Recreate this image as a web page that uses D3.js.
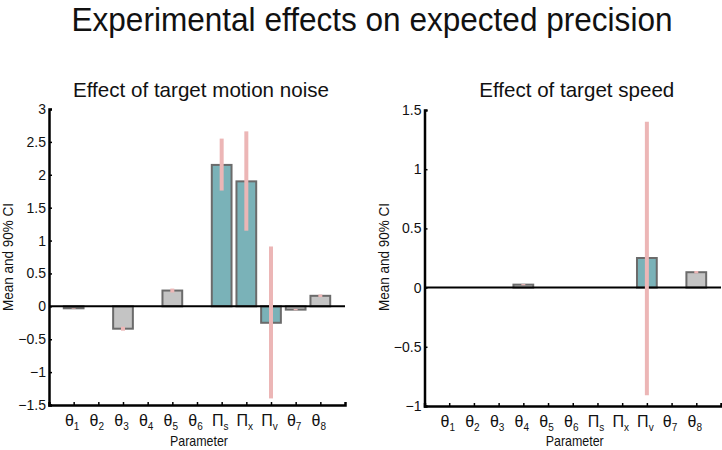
<!DOCTYPE html>
<html><head><meta charset="utf-8">
<script src="https://cdn.jsdelivr.net/npm/d3@7"></script>
<style>body{margin:0;background:#fff;}svg{display:block;font-family:"Liberation Sans",Arial,sans-serif;}</style>
</head><body>
<svg id="c" width="722" height="450"></svg>
<script>
const categories = ["θ1","θ2","θ3","θ4","θ5","θ6","Πs","Πx","Πv","θ7","θ8"];
const noiseMean = [-0.03, 0, -0.34, 0, 0.24, 0, 2.15, 1.90, -0.25, -0.05, 0.16];
const noiseLo   = [-0.035, 0, -0.37, 0, 0.21, 0, 1.76, 1.15, -1.40, -0.06, 0.14];
const noiseHi   = [-0.025, 0, -0.31, 0, 0.27, 0, 2.55, 2.66, 0.91, -0.04, 0.18];
const speedMean = [0, 0, 0, 0.025, 0, 0, 0, 0, 0.25, 0, 0.13];
const speedLo   = [0, 0, 0, 0.02, 0, 0, 0, 0, -0.91, 0, 0.12];
const speedHi   = [0, 0, 0, 0.03, 0, 0, 0, 0, 1.40, 0, 0.14];
const noiseTicks = [3, 2.5, 2, 1.5, 1, 0.5, 0, -0.5, -1, -1.5];
const speedTicks = [1.5, 1, 0.5, 0, -0.5, -1];

const FONT = "'Liberation Sans',Arial,sans-serif";
const svg = d3.select("#c");
svg.append("text").attr("x", 372).attr("y", 31).attr("text-anchor", "middle")
  .attr("font-size", 33).attr("fill", "#111").attr("textLength", 601)
  .attr("lengthAdjust", "spacingAndGlyphs").text("Experimental effects on expected precision");

function panel(opts) {
  const {x0, x1, y0, y1, dom, ticks, mean, lo, hi, sub, subLen, ylabX} = opts;
  const g = svg.append("g");
  const x = d3.scaleLinear().domain([0, 12]).range([x0, x1]);
  const y = d3.scaleLinear().domain(dom).range([y1, y0]);
  const step = x(1) - x(0);
  const bw = step * 0.8;
  const data = categories.map((c, i) => ({c, i, m: mean[i], lo: lo[i], hi: hi[i]}));

  g.append("text").attr("x", (x0 + x1) / 2 + 4).attr("y", 97).attr("text-anchor", "middle")
    .attr("font-size", 21).attr("fill", "#111").attr("textLength", subLen)
    .attr("lengthAdjust", "spacingAndGlyphs").text(sub);

  g.selectAll("rect.bar").data(data.filter(d => d.m !== 0)).join("rect")
    .attr("x", d => x(d.i + 1) - bw / 2)
    .attr("y", d => y(Math.max(0, d.m)))
    .attr("width", bw)
    .attr("height", d => Math.abs(y(d.m) - y(0)))
    .attr("fill", d => d.c.startsWith("Π") ? "#7ab2b8" : "#c4c4c4")
    .attr("stroke", "#6b6b6b").attr("stroke-width", 2);

  g.append("line").attr("x1", x0).attr("x2", x1).attr("y1", y(0)).attr("y2", y(0))
    .attr("stroke", "#000").attr("stroke-width", 2);

  g.selectAll("line.ci").data(data.filter(d => d.hi !== d.lo)).join("line")
    .attr("x1", d => x(d.i + 1)).attr("x2", d => x(d.i + 1))
    .attr("y1", d => y(d.lo)).attr("y2", d => y(d.hi))
    .attr("stroke", "#ecb6b6").attr("stroke-width", 4);

  const ya = g.append("g").attr("transform", `translate(${x0},0)`)
    .call(d3.axisLeft(y).tickValues(ticks).tickSize(-3).tickPadding(3).tickFormat(d3.format("")));
  ya.attr("font-family", FONT).attr("font-size", 14);
  ya.select(".domain").attr("stroke", "#000").attr("stroke-width", 2.5);
  ya.selectAll(".tick line").attr("stroke", "#000").attr("stroke-width", 1.5);
  ya.selectAll(".tick text").attr("fill", "#111");

  const xa = g.append("g").attr("transform", `translate(0,${y1})`)
    .call(d3.axisBottom(x).tickValues(d3.range(1, 12)).tickSize(-3).tickFormat(""));
  xa.attr("font-family", FONT).attr("font-size", 16);
  xa.select(".domain").attr("stroke", "#000").attr("stroke-width", 2.5);
  xa.selectAll(".tick line").attr("stroke", "#000").attr("stroke-width", 1.5);
  xa.selectAll(".tick text").each(function(d) {
    const c = categories[d - 1];
    const t = d3.select(this).attr("fill", "#111").attr("y", 21).attr("dy", 0).attr("dx", -2);
    t.append("tspan").text(c[0]);
    t.append("tspan").attr("font-size", 10).attr("dy", 4).text(c.slice(1));
  });

  g.append("text").attr("x", (x0 + x1) / 2 + 2).attr("y", 446).attr("text-anchor", "middle")
    .attr("font-size", 15).attr("fill", "#111").attr("textLength", 58)
    .attr("lengthAdjust", "spacingAndGlyphs").text("Parameter");

  g.append("text").attr("transform", `translate(${ylabX},257) rotate(-90)`).attr("text-anchor", "middle")
    .attr("font-size", 15).attr("fill", "#111").attr("textLength", 108)
    .attr("lengthAdjust", "spacingAndGlyphs").text("Mean and 90% CI");
}

panel({x0: 49, x1: 345, y0: 109, y1: 405, dom: [-1.5, 3], ticks: noiseTicks,
  mean: noiseMean, lo: noiseLo, hi: noiseHi, sub: "Effect of target motion noise", subLen: 256, ylabX: 13});
panel({x0: 424.5, x1: 721, y0: 110, y1: 406, dom: [-1, 1.5], ticks: speedTicks,
  mean: speedMean, lo: speedLo, hi: speedHi, sub: "Effect of target speed", subLen: 195, ylabX: 389});
</script>
</body></html>
